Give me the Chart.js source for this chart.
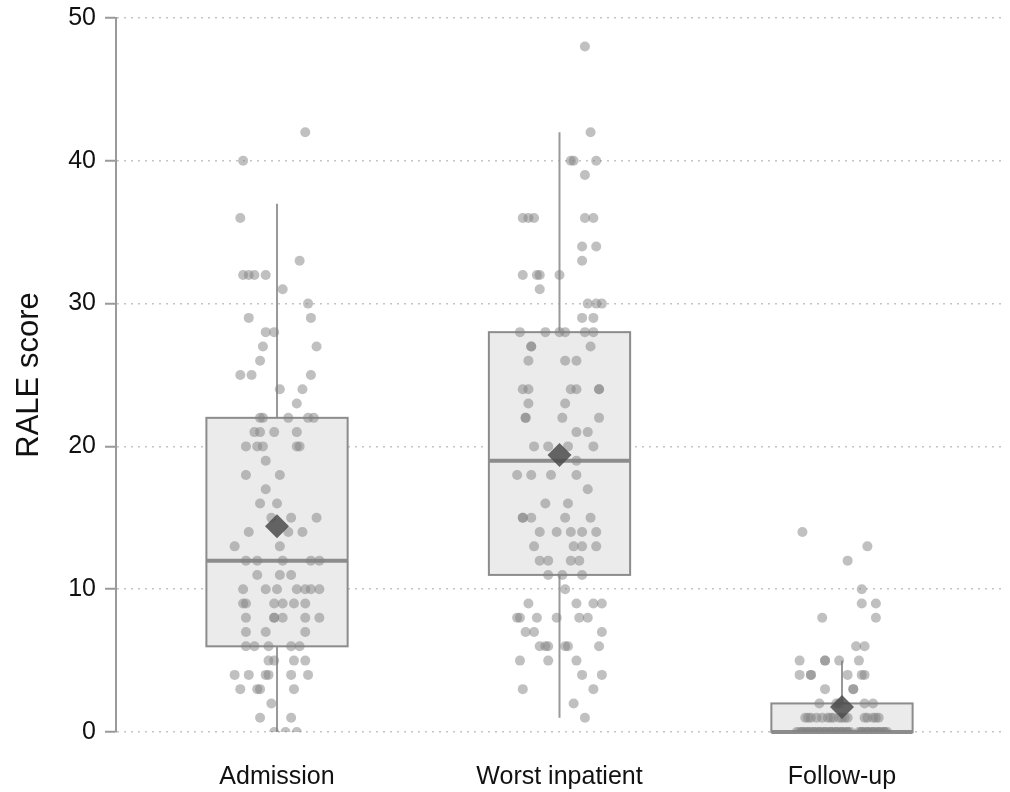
<!DOCTYPE html>
<html>
<head>
<meta charset="utf-8">
<title>RALE score</title>
<script src="https://cdn.jsdelivr.net/npm/chart.js@4"></script>
<style>
    html, body { margin: 0; padding: 0; background: #fff; }
    #wrap { width: 1010px; height: 792px; position: relative; }
</style>
</head>
<body>
<div id="wrap"><canvas id="raleChart"></canvas></div>
<script>
// Groups on the x axis
const groups = ['Admission', 'Worst inpatient', 'Follow-up'];

// Box statistics
const whiskerLow = [0, 1, 0];
const q1 = [6, 11, 0];
const median = [12, 19, 0];
const q3 = [22, 28, 2];
const whiskerHigh = [37, 42, 5];
const means = [14.4, 19.4, 1.75];

// Individual patients: [score, horizontal jitter in category units]
const admissionPoints = [
    [42, .10], [40, -.12], [36, -.13], [33, .08],
    [32, -.12], [32, -.10], [32, -.08], [32, -.04], [31, .02], [30, .11],
    [29, -.10], [29, .12], [28, -.04], [28, -.01], [27, -.05], [27, .14], [26, -.06],
    [25, -.13], [25, -.09], [25, .12], [24, .01], [24, .09], [23, .07],
    [22, -.06], [22, -.05], [22, .04], [22, .11], [22, .13],
    [21, -.08], [21, -.06], [21, -.01], [21, .07],
    [20, -.11], [20, -.07], [20, -.05], [20, .07], [20, .08],
    [19, -.04], [18, -.11], [18, .01], [17, -.04], [16, -.06], [16, 0],
    [15, -.02], [15, .05], [15, .14], [14, -.10], [14, .04], [14, .09], [13, -.15], [13, .01],
    [12, -.11], [12, -.07], [12, .02], [12, .12], [12, .15], [11, -.07], [11, .01], [11, .05],
    [10, -.12], [10, -.04], [10, 0], [10, .07], [10, .10], [10, .12], [10, .15],
    [9, -.12], [9, -.11], [9, -.01], [9, .02], [9, .06], [9, .10],
    [8, -.11], [8, -.01], [8, -.01], [8, .02], [8, .10], [8, .15], [7, -.11], [7, -.04], [7, .10],
    [6, -.11], [6, -.08], [6, -.03], [6, .05], [6, .08], [5, -.03], [5, -.01], [5, .06], [5, .10],
    [4, -.15], [4, -.10], [4, -.04], [4, -.03], [4, .05], [4, .11],
    [3, -.13], [3, -.07], [3, -.06], [3, .06], [2, -.02], [1, -.06], [1, .05],
    [0, -.01], [0, .03], [0, .07]
];

const worstPoints = [
    [48, .09], [42, .11], [40, .04], [40, .05], [40, .13], [39, .09],
    [36, -.13], [36, -.11], [36, -.09], [36, .09], [36, .12], [34, .08], [34, .13], [33, .08],
    [32, -.13], [32, -.08], [32, -.07], [32, 0], [31, -.07], [30, .10], [30, .13], [30, .15],
    [29, .08], [29, .12], [28, -.14], [28, -.05], [28, 0], [28, .02], [28, .09], [28, .12],
    [27, -.10], [27, -.10], [27, .11], [26, -.11], [26, .02], [26, .06],
    [24, -.13], [24, -.11], [24, .04], [24, .06], [24, .14], [24, .14], [23, -.11], [23, .02],
    [22, -.12], [22, -.12], [22, .01], [22, .14], [21, .06], [21, .10],
    [20, -.09], [20, -.04], [20, .03], [20, .12], [19, .06],
    [18, -.15], [18, -.10], [18, -.03], [18, .06], [17, .10], [16, -.05], [16, .03],
    [15, -.13], [15, -.13], [15, -.10], [15, .02], [15, .11],
    [14, -.07], [14, -.01], [14, .04], [14, .08], [14, .13], [13, -.09], [13, .05], [13, .08], [13, .13],
    [12, -.07], [12, -.04], [12, .04], [12, .07], [11, -.04], [11, .01], [11, .08], [10, .02],
    [9, -.11], [9, .06], [9, .12], [9, .15], [8, -.15], [8, -.14], [8, -.08], [8, -.01], [8, .07], [8, .10],
    [7, -.12], [7, -.09], [7, .15], [6, -.07], [6, -.05], [6, -.04], [6, .02], [6, .03], [6, .14],
    [5, -.14], [5, -.04], [5, .06], [4, .08], [4, .15], [3, -.13], [3, .12], [2, .05], [1, .09]
];

const followUpPoints = [
    [14, -.14], [13, .09], [12, .02], [10, .07], [9, .07], [9, .12], [8, -.07], [8, .12],
    [6, .05], [6, .08], [5, -.15], [5, -.06], [5, -.06], [5, -.01], [5, .06],
    [4, -.15], [4, -.11], [4, -.11], [4, .02], [4, .07], [4, .08], [3, -.06], [3, .04], [3, .04],
    [2, -.08], [2, -.02], [2, -.01], [2, .08], [2, .11],
    [1, -.13], [1, -.12], [1, -.11], [1, -.09], [1, -.07], [1, -.05], [1, -.04], [1, -.03], [1, -.01],
    [1, 0], [1, .01], [1, .02], [1, .08], [1, .09], [1, .11], [1, .12], [1, .13],
    [0, -.16], [0, -.15], [0, -.14], [0, -.13], [0, -.12], [0, -.11], [0, -.10], [0, -.09], [0, -.08],
    [0, -.07], [0, -.06], [0, -.05], [0, -.04], [0, -.03], [0, -.02], [0, -.01], [0, 0], [0, .01],
    [0, .02], [0, .03], [0, .06], [0, .07], [0, .08], [0, .09], [0, .10], [0, .11], [0, .12], [0, .13],
    [0, .14], [0, .15], [0, .16], [0, -.14], [0, -.12], [0, -.10], [0, -.08], [0, -.06], [0, -.04],
    [0, -.02], [0, 0], [0, .02], [0, .07], [0, .09], [0, .11], [0, .13], [0, .15]
];

const yTicks = [0, 10, 20, 30, 40, 50];

const pointSets = [admissionPoints, worstPoints, followUpPoints];
const scatterData = [];
pointSets.forEach((set, i) => {
    set.forEach(([score, jitter]) => scatterData.push({ x: i + 1 + jitter, y: score }));
});

const BOX_HALF = 0.25;

// Draws the boxes and whiskers underneath the points
const boxPlotPlugin = {
    id: 'boxPlot',
    beforeDatasetsDraw(chart) {
        const { ctx, scales: { x, y } } = chart;
        ctx.save();
        groups.forEach((g, i) => {
            const cx = x.getPixelForValue(i + 1);
            const left = x.getPixelForValue(i + 1 - BOX_HALF);
            const right = x.getPixelForValue(i + 1 + BOX_HALF);
            const top = y.getPixelForValue(q3[i]);
            const bottom = y.getPixelForValue(q1[i]);

            // whiskers
            ctx.strokeStyle = '#999999';
            ctx.lineWidth = 2;
            ctx.beginPath();
            ctx.moveTo(cx, y.getPixelForValue(whiskerHigh[i]));
            ctx.lineTo(cx, top);
            ctx.moveTo(cx, bottom);
            ctx.lineTo(cx, y.getPixelForValue(whiskerLow[i]));
            ctx.stroke();

            // box
            ctx.fillStyle = '#ebebeb';
            ctx.fillRect(left, top, right - left, bottom - top);
            ctx.strokeStyle = '#8c8c8c';
            ctx.lineWidth = 2;
            ctx.strokeRect(left, top, right - left, bottom - top);

            // median
            const my = y.getPixelForValue(median[i]);
            ctx.lineWidth = 4;
            ctx.beginPath();
            ctx.moveTo(left, my);
            ctx.lineTo(right, my);
            ctx.stroke();
        });
        ctx.restore();
    }
};

const ctx = document.getElementById('raleChart').getContext('2d');
new Chart(ctx, {
    type: 'scatter',
    data: {
        datasets: [
            {
                label: 'Mean',
                data: means.map((m, i) => ({ x: i + 1, y: m })),
                pointStyle: 'rectRot',
                pointRadius: 12,
                backgroundColor: 'rgba(75,75,75,0.85)',
                borderColor: 'rgba(75,75,75,0.85)',
                borderWidth: 0,
                order: 0
            },
            {
                label: 'RALE score',
                data: scatterData,
                pointRadius: 5,
                backgroundColor: 'rgba(130,130,130,0.5)',
                borderWidth: 0,
                order: 1
            }
        ]
    },
    options: {
        responsive: true,
        maintainAspectRatio: false,
        animation: false,
        layout: {
            autoPadding: false,
            padding: { top: 18, right: 7, left: 0, bottom: 0 }
        },
        plugins: {
            legend: { display: false },
            tooltip: { enabled: false }
        },
        scales: {
            x: {
                type: 'linear',
                min: 0.43,
                max: 3.57,
                afterBuildTicks: (scale) => {
                    scale.ticks = groups.map((g, i) => ({ value: i + 1 }));
                },
                afterFit: (scale) => {
                    scale.height = 60;
                    scale.paddingLeft = 0;
                    scale.paddingRight = 0;
                },
                grid: { display: false, drawTicks: false },
                border: { display: false },
                ticks: {
                    padding: 30,
                    color: '#111',
                    font: { family: 'Liberation Sans', size: 25 },
                    callback: (v) => groups[v - 1] || ''
                }
            },
            y: {
                min: 0,
                max: 50,
                afterBuildTicks: (scale) => {
                    scale.ticks = yTicks.map(v => ({ value: v }));
                },
                afterFit: (scale) => {
                    scale.width = 116;
                    scale.paddingTop = 0;
                    scale.paddingBottom = 0;
                },
                grid: {
                    color: '#c4c4c4',
                    lineWidth: 1.5,
                    tickLength: 11,
                    tickColor: '#9a9a9a',
                    tickWidth: 2,
                    tickBorderDash: []
                },
                border: { color: '#9a9a9a', width: 2, dash: [2, 5] },
                ticks: {
                    padding: 9,
                    color: '#111',
                    font: { family: 'Liberation Sans', size: 25 }
                },
                title: {
                    display: true,
                    text: 'RALE score',
                    color: '#111',
                    padding: { top: 11, bottom: 0 },
                    font: { family: 'Liberation Sans', size: 31 }
                }
            }
        }
    },
    plugins: [boxPlotPlugin]
});
</script>
</body>
</html>
